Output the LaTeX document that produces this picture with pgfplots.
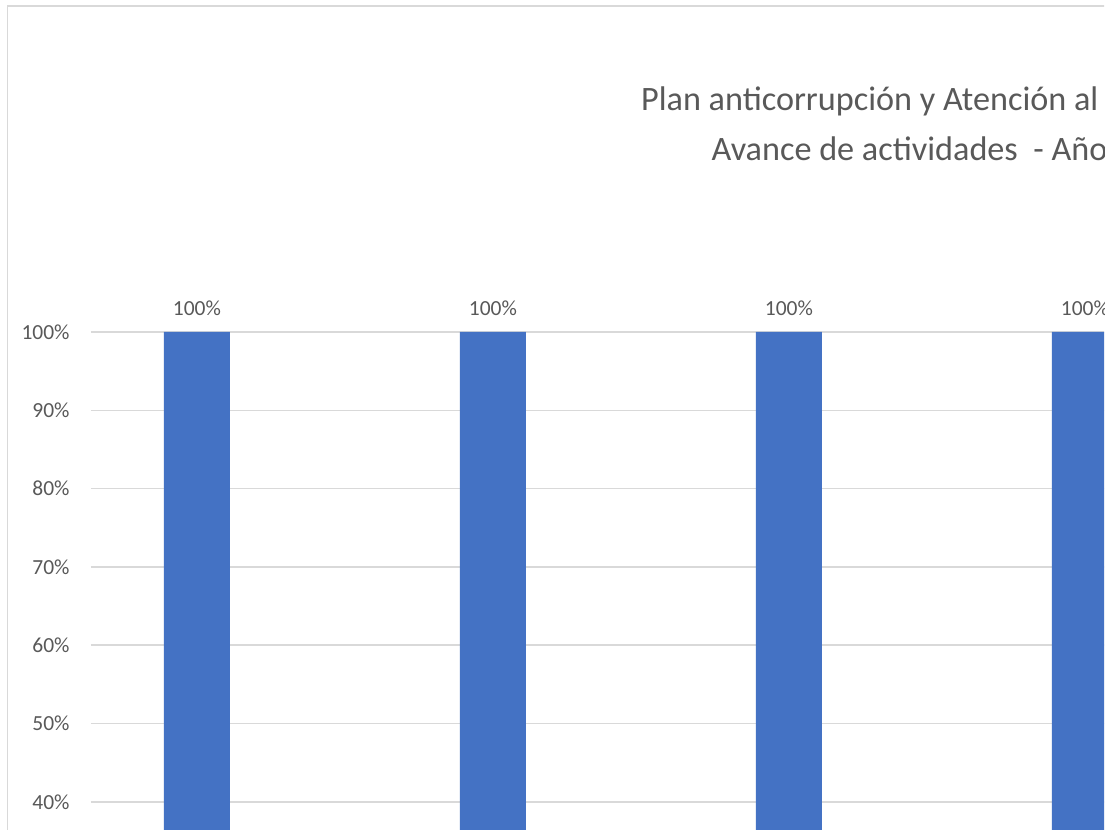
\documentclass[border=0pt]{standalone}
\usepackage{fontspec}
\setmainfont{Carlito}
\usepackage{pgfplots}
\pgfplotsset{compat=1.18}
\definecolor{barblue}{HTML}{4472C4}
\definecolor{gridgray}{HTML}{D9D9D9}
\definecolor{txtgray}{HTML}{595959}
\begin{document}
\begin{tikzpicture}[x=0.5pt,y=0.5pt]
\path[use as bounding box, fill=white] (0,0) rectangle (1120,830);
\begin{scope}
\clip (0,0) rectangle (1104,830);
\draw[gridgray, line width=0.75pt] (7.3,-5) -- (7.3,824) -- (1130,824);
\begin{axis}[
  at={(45.5pt,-142.5pt)}, anchor=south west, scale only axis,
  width=592pt, height=391.5pt,
  xmin=-0.358, xmax=3.642, ymin=0, ymax=100,
  clip=false,
  axis line style={draw=none},
  major tick length=0pt,
  xtick=\empty,
  ytick={40,50,...,100},
  extra y ticks={0,10,20,30},
  extra y tick labels={},
  yticklabel={\pgfmathprintnumber{\tick}\%},
  /pgf/number format/assume math mode=true,
  yticklabel style={anchor=east, inner sep=0pt, xshift=-10.5pt, text=txtgray, font=\fontsize{10.75}{13}\selectfont},
  ymajorgrids,
  extra y tick style={grid=major},
  grid style={gridgray, line width=0.75pt},
]
\addplot[ybar, fill=barblue, draw=none, bar width=33pt,
  nodes near coords={\pgfmathprintnumber{\pgfplotspointmeta}\%},
  every node near coord/.append style={anchor=base, yshift=8pt, inner sep=0pt, text=txtgray, font=\fontsize{10.75}{13}\selectfont, /pgf/number format/assume math mode=true},
] coordinates {(0,100) (1,100) (2,100) (3,100)};
\end{axis}
\node[anchor=base, inner sep=0pt, text=txtgray, font=\fontsize{17.1}{20}\selectfont] at (948,719) {Plan anticorrupción y Atención al Ciudadano};
\node[anchor=base, inner sep=0pt, text=txtgray, font=\fontsize{17.1}{20}\selectfont] at (948,669) {Avance de actividades\ \ - Año 2019};
\end{scope}
\end{tikzpicture}
\end{document}
